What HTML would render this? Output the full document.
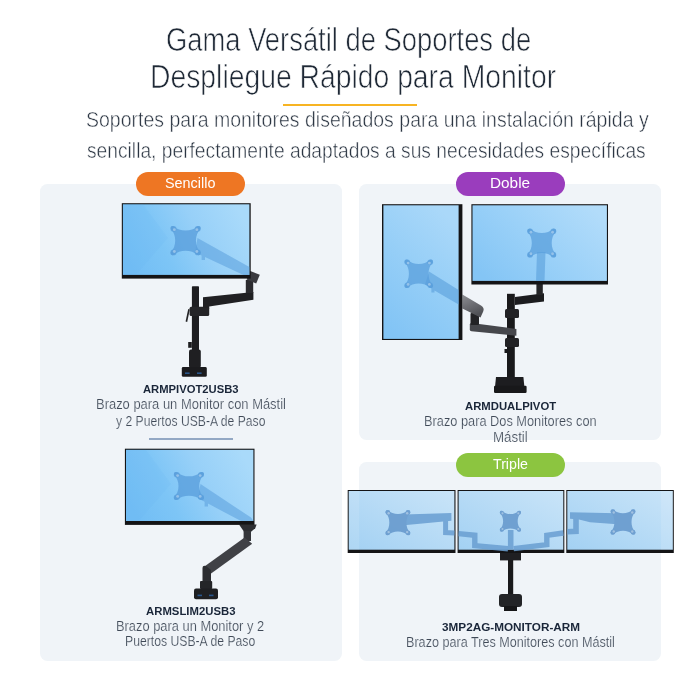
<!DOCTYPE html>
<html lang="es">
<head>
<meta charset="utf-8">
<meta name="viewport" content="width=700">
<title>Gama Versátil de Soportes de Despliegue Rápido para Monitor</title>
<style>
html,body{margin:0;padding:0;background:#fff}
body{width:700px;height:700px;overflow:hidden}
#page{will-change:transform;position:relative;display:block;width:700px;height:700px;background:#fff;overflow:hidden;font-family:"Liberation Sans",sans-serif}
h1,h2,p{margin:0;padding:0;font:inherit}
.panel{position:absolute;background:#f0f4f8;border-radius:7.5px}
.pill{position:absolute;width:108.5px;height:24px;border-radius:12px}
.rule{position:absolute;left:283.3px;top:103.5px;width:133.4px;height:2.1px;background:#f7b423}
.divider{position:absolute;left:148.5px;top:438.1px;width:84.2px;height:1.8px;background:#93a8c4}
.t{position:absolute;display:block;white-space:nowrap;line-height:1;transform-origin:0 0}
svg.art{position:absolute;left:0;top:0;filter:blur(0.35px)}
</style>
</head>
<body>
<main id="page">

<header>
  <h1><span class="t" style="left:166.44px;top:23.25px;font-size:33px;font-weight:400;color:#1f2936;-webkit-text-stroke:0.7px #fff;transform:scaleX(0.8293)">Gama Versátil de Soportes de</span> <span class="t" style="left:150.03px;top:60.35px;font-size:33px;font-weight:400;color:#1f2936;-webkit-text-stroke:0.7px #fff;transform:scaleX(0.8580)">Despliegue Rápido para Monitor</span></h1>
  <div class="rule"></div>
  <p><span class="t" style="left:85.91px;top:109.07px;font-size:21.8px;font-weight:400;color:#2b3542;-webkit-text-stroke:0.5px #fff;transform:scaleX(0.8947)">Soportes para monitores diseñados para una instalación rápida y</span> <span class="t" style="left:87.42px;top:139.97px;font-size:21.8px;font-weight:400;color:#2b3542;-webkit-text-stroke:0.5px #fff;transform:scaleX(0.8816)">sencilla, perfectamente adaptados a sus necesidades específicas</span></p>
</header>

<section class="group">
  <div class="panel" style="left:39.5px;top:184px;width:302px;height:477.3px"></div>
  <div class="pill" style="left:136px;top:172.2px;background:#ee7623"><span class="t" style="left:29.07px;top:2.72px;font-size:15.5px;font-weight:400;color:#ffffff;transform:scaleX(0.9283)">Sencillo</span></div>
  <article>
    <h2><span class="t" style="left:142.9px;top:383.14px;font-size:11.6px;font-weight:700;color:#1a2639;transform:scaleX(0.9694)">ARMPIVOT2USB3</span></h2>
    <p><span class="t" style="left:95.98px;top:397.1px;font-size:14px;font-weight:400;color:#3f4957;-webkit-text-stroke:0.2px #f0f4f8;transform:scaleX(0.9246)">Brazo para un Monitor con Mástil</span> <span class="t" style="left:116.4px;top:413.5px;font-size:14px;font-weight:400;color:#3f4957;-webkit-text-stroke:0.2px #f0f4f8;transform:scaleX(0.8690)">y 2 Puertos USB-A de Paso</span></p>
  </article>
  <div class="divider"></div>
  <article>
    <h2><span class="t" style="left:146px;top:604.54px;font-size:11.6px;font-weight:700;color:#1a2639;transform:scaleX(0.9780)">ARMSLIM2USB3</span></h2>
    <p><span class="t" style="left:116.48px;top:618.7px;font-size:14px;font-weight:400;color:#3f4957;-webkit-text-stroke:0.2px #f0f4f8;transform:scaleX(0.9195)">Brazo para un Monitor y 2</span> <span class="t" style="left:125.13px;top:634.4px;font-size:14px;font-weight:400;color:#3f4957;-webkit-text-stroke:0.2px #f0f4f8;transform:scaleX(0.8716)">Puertos USB-A de Paso</span></p>
  </article>
</section>

<section class="group">
  <div class="panel" style="left:359.3px;top:184px;width:301.7px;height:256px"></div>
  <div class="pill" style="left:456px;top:172.2px;background:#9a3dbd"><span class="t" style="left:34.11px;top:2.72px;font-size:15.5px;font-weight:400;color:#ffffff;transform:scaleX(0.9897)">Doble</span></div>
  <article>
    <h2><span class="t" style="left:465px;top:399.54px;font-size:11.6px;font-weight:700;color:#1a2639;transform:scaleX(0.9753)">ARMDUALPIVOT</span></h2>
    <p><span class="t" style="left:424.09px;top:413.7px;font-size:14px;font-weight:400;color:#3f4957;-webkit-text-stroke:0.2px #f0f4f8;transform:scaleX(0.9128)">Brazo para Dos Monitores con</span> <span class="t" style="left:493.35px;top:430px;font-size:14px;font-weight:400;color:#3f4957;-webkit-text-stroke:0.2px #f0f4f8;transform:scaleX(0.9514)">Mástil</span></p>
  </article>
</section>

<section class="group">
  <div class="panel" style="left:359.3px;top:462px;width:301.7px;height:199.3px"></div>
  <div class="pill" style="left:456px;top:452.7px;background:#8cc540"><span class="t" style="left:37.2px;top:2.82px;font-size:15.5px;font-weight:400;color:#ffffff;transform:scaleX(0.9158)">Triple</span></div>
  <article>
    <h2><span class="t" style="left:441.59px;top:620.84px;font-size:11.6px;font-weight:700;color:#1a2639;transform:scaleX(1.0126)">3MP2AG-MONITOR-ARM</span></h2>
    <p><span class="t" style="left:406.2px;top:634.5px;font-size:14px;font-weight:400;color:#3f4957;-webkit-text-stroke:0.2px #f0f4f8;transform:scaleX(0.9009)">Brazo para Tres Monitores con Mástil</span></p>
  </article>
</section>

<svg class="art" width="700" height="700" viewBox="0 0 700 700">
<defs>
  <linearGradient id="scr" x1="0" y1="0.65" x2="1" y2="0.35">
    <stop offset="0" stop-color="#72bef5"/>
    <stop offset="0.3" stop-color="#7dc5f6"/>
    <stop offset="0.62" stop-color="#97d0f8"/>
    <stop offset="1" stop-color="#a9dafa"/>
  </linearGradient>
  <linearGradient id="scr2" x1="0" y1="0.8" x2="1" y2="0.2">
    <stop offset="0" stop-color="#84c5f5"/>
    <stop offset="0.5" stop-color="#9bd1f8"/>
    <stop offset="1" stop-color="#b2dcfa"/>
  </linearGradient>
  <linearGradient id="scr2p" x1="0.2" y1="1" x2="0.7" y2="0">
    <stop offset="0" stop-color="#82c4f5"/>
    <stop offset="0.55" stop-color="#97cff7"/>
    <stop offset="1" stop-color="#aad8f9"/>
  </linearGradient>
  <linearGradient id="scr3" x1="0" y1="1" x2="1" y2="0">
    <stop offset="0" stop-color="#a3d1f3"/>
    <stop offset="1" stop-color="#c9e4f8"/>
  </linearGradient>
  <linearGradient id="grey" x1="0" y1="0" x2="0.4" y2="1">
    <stop offset="0" stop-color="#8d8e93"/>
    <stop offset="1" stop-color="#505156"/>
  </linearGradient>
  <g id="vesa">
    <path d="M-1,-0.8 Q-1.06,-1.06 -0.8,-1 C-0.42,-0.6 0.42,-0.6 0.8,-1 Q1.06,-1.06 1,-0.8 C0.6,-0.42 0.6,0.42 1,0.8 Q1.06,1.06 0.8,1 C0.42,0.6 -0.42,0.6 -0.8,1 Q-1.06,1.06 -1,0.8 C-0.6,0.42 -0.6,-0.42 -1,-0.8 Z"/>
    <circle cx="-0.82" cy="-0.82" r="0.2"/><circle cx="0.82" cy="-0.82" r="0.2"/>
    <circle cx="-0.82" cy="0.82" r="0.2"/><circle cx="0.82" cy="0.82" r="0.2"/>
  </g>
  <g id="holes" fill="#ffffff" fill-opacity="0.35">
    <circle cx="-0.76" cy="-0.76" r="0.1"/><circle cx="0.76" cy="-0.76" r="0.1"/>
    <circle cx="-0.76" cy="0.76" r="0.1"/><circle cx="0.76" cy="0.76" r="0.1"/>
  </g>
</defs>

<!-- ============ Product 1 : single with pole ============ -->
<g id="prod1">
  <rect x="191.9" y="286.2" width="7.1" height="70" rx="0.8" fill="#1d1d20"/>
  <rect x="189.6" y="306.7" width="19.6" height="9.4" rx="1.5" fill="#242427"/>
  <path d="M188.2,309 L189.8,309.4 L187.2,322 L185.6,321.6 Z" fill="#242427"/>
  <path d="M203,297.3 L253.4,292 L253.4,299.8 L209.2,306.4 L209.2,308 L203,308 Z" fill="#202023"/>
  <rect x="245.8" y="280" width="7.4" height="13" fill="#2b2b2f"/>
  <path d="M250.2,271 L259.8,274.8 L256.2,283.4 L246.6,279.6 Z" fill="#3a3a3f"/>
  <rect x="188.2" y="342" width="3.6" height="5.8" fill="#1d1d20"/>
  <rect x="189" y="349.4" width="11.8" height="18.6" rx="2" fill="#1f1f22"/>
  <rect x="181.8" y="367" width="25" height="9.8" rx="1.4" fill="#1b1b1e"/>
  <rect x="185" y="372.4" width="4.6" height="1.6" fill="#2c5f9e" fill-opacity="0.85"/>
  <rect x="197" y="372.4" width="4.6" height="1.6" fill="#2c5f9e" fill-opacity="0.85"/>
  <rect x="121.8" y="203.2" width="128.9" height="75.4" fill="#141416"/>
  <rect x="122.9" y="204.3" width="126.5" height="70.6" fill="url(#scr)"/>
  <path d="M122.9,204.3 L143,204.3 L168,238 L136,274.9 L122.9,274.9 Z" fill="#62b3f1" fill-opacity="0.13"/>
  <g fill="#5a9fdc">
    <path d="M197.5,238 L249.4,267 L249.4,274.9 L243.5,274.9 L205,257 L205,260 L201.6,260 L201.6,255.4 L195,252.4 Z" fill-opacity="0.55"/>
    <use href="#vesa" transform="translate(185.6,240.6) scale(14.8,14.4)" fill-opacity="0.8"/>
    <use href="#holes" transform="translate(185.6,240.6) scale(14.8,14.4)"/>
  </g>
</g>

<!-- ============ Product 2 : slim ============ -->
<g id="prod2">
  <path d="M239,524.5 L256.6,524.5 L255.2,528.2 L250.8,532 L244.2,532 Z" fill="#2d2e32"/>
  <rect x="243.6" y="531" width="7.4" height="10" fill="#34353a"/>
  <path d="M244.6,537.6 L252.2,543.8 L210.4,574 L203.4,567.2 Z" fill="#404146"/>
  <path d="M202.5,568 Q202.5,565 206,566 L211,570 L211,583 L202.5,583 Z" fill="#2c2d31"/>
  <rect x="200" y="581" width="12.2" height="8" rx="1" fill="#242528"/>
  <rect x="194" y="588.4" width="24" height="10.8" rx="2" fill="#1e1f22"/>
  <rect x="197.5" y="594.6" width="4.5" height="1.6" fill="#2c5f9e" fill-opacity="0.85"/>
  <rect x="209" y="594.6" width="4.5" height="1.6" fill="#2c5f9e" fill-opacity="0.85"/>
  <rect x="124.9" y="448.7" width="129.6" height="76.2" fill="#141416"/>
  <rect x="126" y="449.8" width="127.4" height="71.2" fill="url(#scr)"/>
  <path d="M126,449.8 L146,449.8 L171,484 L139,521 L126,521 Z" fill="#62b3f1" fill-opacity="0.13"/>
  <g fill="#5a9fdc">
    <path d="M200.5,484 L251,517.6 L253.4,521 L241,521 L208,503.6 L208,506.4 L204.6,506.4 L204.6,501.8 L198,498.4 Z" fill-opacity="0.55"/>
    <use href="#vesa" transform="translate(188.9,486) scale(14.8,13.8)" fill-opacity="0.8"/>
    <use href="#holes" transform="translate(188.9,486) scale(14.8,13.8)"/>
  </g>
</g>

<!-- ============ Product 3 : dual ============ -->
<g id="prod3">
  <rect x="507" y="293.8" width="7.8" height="84" fill="#19191b"/>
  <rect x="505" y="309" width="14" height="9" rx="1.5" fill="#222225"/>
  <rect x="505" y="338" width="14" height="9" rx="1.5" fill="#222225"/>
  <rect x="504.5" y="349" width="3" height="4" fill="#19191b"/>
  <path d="M496,377 L523.4,377 L524.4,387 L495,387 Z" fill="#1d1d20"/>
  <rect x="494" y="385.8" width="32.6" height="7.2" rx="1.2" fill="#18181a"/>
  <path d="M515,297 L544,293.2 L544,301.4 L515,305 Z" fill="#1c1c1f"/>
  <rect x="536.4" y="284" width="6.4" height="11" fill="#252528"/>
  <path d="M471.5,322.9 L516.4,328.9 L516.4,335.8 L471.5,331.2 Q469.8,331 469.8,329.4 L469.8,324.6 Q469.8,322.8 471.5,322.9 Z" fill="#46474c"/>
  <rect x="470.5" y="313" width="8.5" height="12" rx="1" fill="#232326"/>
  <path d="M462.4,294.5 L481,305.5 Q484.8,308 483.2,311.5 L480.5,317.5 L462.4,308.5 Z" fill="url(#grey)"/>
  <rect x="382" y="204.2" width="80.4" height="135.8" fill="#141416"/>
  <rect x="383.4" y="205.3" width="75.2" height="133.6" fill="url(#scr2p)"/>
  <g fill="#5a9fdc">
    <path d="M429,271.5 L458.6,290 L458.6,304.4 L434.5,290.4 L434.5,292.6 L431.4,292.6 L431.4,288.4 L425,284.6 Z" fill-opacity="0.62"/>
    <use href="#vesa" transform="translate(418.75,273.75) scale(14,14)" fill-opacity="0.75"/>
    <use href="#holes" transform="translate(418.75,273.75) scale(14,14)"/>
  </g>
  <rect x="471.4" y="204.2" width="136.6" height="80.3" fill="#141416"/>
  <rect x="472.5" y="205.3" width="134.4" height="75.6" fill="url(#scr2)"/>
  <g fill="#5a9fdc">
    <path d="M537,252 L545.5,252 L544.5,280.9 L536,280.9 Z" fill-opacity="0.62"/>
    <use href="#vesa" transform="translate(541.75,243) scale(14.2,14.2)" fill-opacity="0.75"/>
    <use href="#holes" transform="translate(541.75,243) scale(14.2,14.2)"/>
  </g>
</g>

<!-- ============ Product 4 : triple ============ -->
<g id="prod4">
  <rect x="500" y="553" width="21" height="7.4" fill="#1f1f22"/>
  <rect x="508" y="560" width="5.2" height="35" fill="#19191b"/>
  <rect x="499" y="594" width="23" height="13" rx="3" fill="#232427"/>
  <rect x="504" y="606" width="13" height="5" fill="#161618"/>
  <rect x="347.7" y="490" width="107.8" height="63" fill="#141416"/>
  <rect x="348.7" y="491" width="105.7" height="58.7" fill="url(#scr3)"/>
  <rect x="457.6" y="490" width="106.7" height="63" fill="#141416"/>
  <rect x="458.6" y="491" width="104.7" height="58.7" fill="url(#scr3)"/>
  <rect x="566.3" y="490" width="107.5" height="63" fill="#141416"/>
  <rect x="567.3" y="491" width="105.5" height="58.7" fill="url(#scr3)"/>
  <rect x="348.7" y="491" width="10.6" height="58.7" fill="#ffffff" fill-opacity="0.12"/>
  <rect x="661" y="491" width="11.8" height="58.7" fill="#ffffff" fill-opacity="0.12"/>
  <g opacity="0.86">
    <g fill="none" stroke="#6a9fd2" stroke-linejoin="miter" stroke-linecap="butt">
      <path d="M404,514.4 L451.4,513.1 L451.4,520.7 L404,525.2 Z" fill="#6a9fd2" stroke="none"/>
      <path d="M445.6,520 L445.6,532.6 L454.4,533" stroke-width="5"/>
      <path d="M458.6,533.6 L474.8,535.2 L474.8,545.6 L508,548.8" stroke-width="5.4"/>
      <path d="M563.3,533 L546.8,535.4 L546.8,544.6 L513.6,548.6" stroke-width="5.4"/>
      <path d="M510.7,530 L510.7,549.7" stroke-width="5.6"/>
      <path d="M570,512.2 L617,513.2 L617,524.2 L590,522.3 L579,519.6 L570,518.8 Z" fill="#6a9fd2" stroke="none"/>
      <path d="M576,518.6 L576,531.4 L567.3,531.8" stroke-width="5.6"/>
    </g>
    <g fill="#6497cc">
      <use href="#vesa" transform="translate(397.9,522.7) scale(12.2,12.4)"/>
      <use href="#vesa" transform="translate(510.4,521.2) scale(10.4,10.3)"/>
      <use href="#vesa" transform="translate(623,522) scale(12.2,12.4)"/>
    </g>
  </g>
  <g>
    <use href="#holes" transform="translate(397.9,522.7) scale(12.2,12.4)"/>
    <use href="#holes" transform="translate(510.4,521.2) scale(10.4,10.3)"/>
    <use href="#holes" transform="translate(623,522) scale(12.2,12.4)"/>
  </g>
</g>
</svg>

</main>
</body>
</html>
